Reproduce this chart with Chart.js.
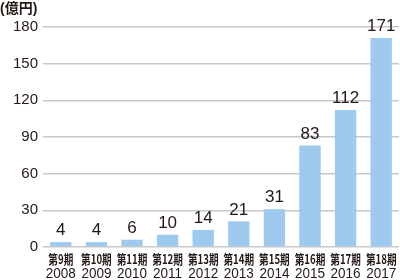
<!DOCTYPE html>
<html>
<head>
<meta charset="utf-8">
<script src="https://cdn.jsdelivr.net/npm/chart.js@4/dist/chart.umd.min.js"></script>
<style>
  html, body { margin: 0; padding: 0; background: #fff; }
  #wrap { width: 400px; height: 280px; }
</style>
</head>
<body>
<div id="wrap"><canvas id="salesChart" width="400" height="280"></canvas></div>
<script>
const periods = ["第9期", "第10期", "第11期", "第12期", "第13期", "第14期", "第15期", "第16期", "第17期", "第18期"];
const years = ["2008", "2009", "2010", "2011", "2012", "2013", "2014", "2015", "2016", "2017"];
const sales = [4, 4, 6, 10, 14, 21, 31, 83, 112, 171];
const yTicks = [0, 30, 60, 90, 120, 150, 180];
const unitLabel = "(億円)";

const FONT = "'Liberation Sans', 'Noto Sans CJK JP', sans-serif";
const CJK = "'Noto Sans CJK JP', sans-serif";
const TEXT = "#231815";

// draws text squeezed horizontally, the source uses a condensed face
function condensed(ctx, text, x, y, font, sx) {
    ctx.save();
    ctx.translate(x, y);
    ctx.scale(sx, 1);
    ctx.font = font;
    ctx.fillText(text, 0, 0);
    ctx.restore();
}

// value labels, two-line x labels and the unit label
const labelPlugin = {
    id: "labels",
    afterDatasetsDraw(chart) {
        const ctx = chart.ctx;
        const xScale = chart.scales.x;
        ctx.save();
        ctx.fillStyle = TEXT;
        ctx.font = "17px " + FONT;
        ctx.textAlign = "center";
        ctx.textBaseline = "bottom";
        chart.getDatasetMeta(0).data.forEach(function (bar, i) {
            ctx.fillText(String(sales[i]), bar.x, bar.y - 3);
        });

        ctx.textBaseline = "middle";
        periods.forEach(function (p, i) {
            const x = xScale.getPixelForValue(i);
            condensed(ctx, p, x, 259, "bold 13px " + CJK, 0.74);
            condensed(ctx, years[i], x, 274, "15px " + FONT, 0.9);
        });

        ctx.font = "bold 14px " + FONT;
        ctx.textAlign = "left";
        ctx.fillText(unitLabel, 0, 9);
        ctx.restore();
    }
};

const ctx = document.getElementById("salesChart").getContext("2d");
new Chart(ctx, {
    type: "bar",
    data: {
        labels: periods,
        datasets: [{
            data: sales,
            backgroundColor: "#9dcaee",
            borderWidth: 0,
            barPercentage: 0.6,
            categoryPercentage: 1
        }]
    },
    options: {
        responsive: false,
        animation: false,
        layout: { padding: { top: 27, right: 1, left: 0, bottom: 0 } },
        plugins: {
            legend: { display: false },
            tooltip: { enabled: false }
        },
        scales: {
            x: {
                grid: { display: false },
                border: { display: false },
                ticks: { display: false },
                afterFit(scale) { scale.height = 33; }
            },
            y: {
                min: 0,
                max: 180,
                afterBuildTicks(scale) {
                    scale.ticks = yTicks.map(function (v) { return { value: v }; });
                },
                grid: { color: "#c8c8c8", lineWidth: 1.5, drawTicks: false },
                border: { display: false },
                ticks: {
                    color: TEXT,
                    font: { size: 15, family: FONT },
                    padding: 5
                },
                afterFit(scale) { scale.width = 43; }
            }
        }
    },
    plugins: [labelPlugin]
});
</script>
</body>
</html>
